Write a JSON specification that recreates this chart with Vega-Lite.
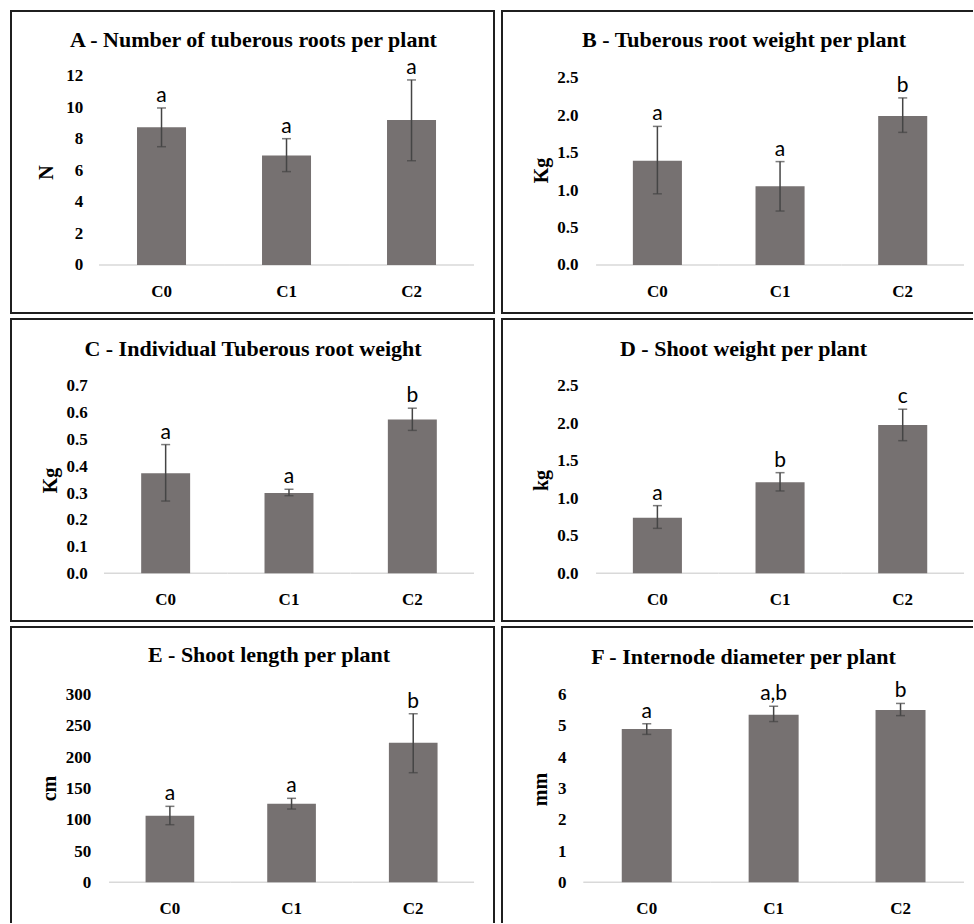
{
  "$schema": "https://vega.github.io/schema/vega-lite/v6.json",
  "padding": {"left": 10, "top": 10, "right": 0, "bottom": 0},
  "background": "white",
  "datasets": {
    "A": [
      {"treatment": "C0", "mean": 8.74, "lo": 7.51, "hi": 9.97, "letter": "a"},
      {"treatment": "C1", "mean": 6.96, "lo": 5.93, "hi": 8.02, "letter": "a"},
      {"treatment": "C2", "mean": 9.21, "lo": 6.62, "hi": 11.75, "letter": "a"}
    ],
    "B": [
      {"treatment": "C0", "mean": 1.39, "lo": 0.95, "hi": 1.85, "letter": "a"},
      {"treatment": "C1", "mean": 1.05, "lo": 0.72, "hi": 1.38, "letter": "a"},
      {"treatment": "C2", "mean": 1.99, "lo": 1.77, "hi": 2.23, "letter": "b"}
    ],
    "C": [
      {"treatment": "C0", "mean": 0.374, "lo": 0.27, "hi": 0.481, "letter": "a"},
      {"treatment": "C1", "mean": 0.3, "lo": 0.29, "hi": 0.314, "letter": "a"},
      {"treatment": "C2", "mean": 0.575, "lo": 0.534, "hi": 0.617, "letter": "b"}
    ],
    "D": [
      {"treatment": "C0", "mean": 0.742, "lo": 0.6, "hi": 0.903, "letter": "a"},
      {"treatment": "C1", "mean": 1.215, "lo": 1.099, "hi": 1.343, "letter": "b"},
      {"treatment": "C2", "mean": 1.98, "lo": 1.77, "hi": 2.19, "letter": "c"}
    ],
    "E": [
      {"treatment": "C0", "mean": 106.5, "lo": 92.1, "hi": 121.5, "letter": "a"},
      {"treatment": "C1", "mean": 125.7, "lo": 117.2, "hi": 134.3, "letter": "a"},
      {"treatment": "C2", "mean": 223.3, "lo": 175.3, "hi": 269.6, "letter": "b"}
    ],
    "F": [
      {"treatment": "C0", "mean": 4.9, "lo": 4.73, "hi": 5.07, "letter": "a"},
      {"treatment": "C1", "mean": 5.36, "lo": 5.14, "hi": 5.63, "letter": "a,b"},
      {"treatment": "C2", "mean": 5.51, "lo": 5.33, "hi": 5.72, "letter": "b"}
    ]
  },
  "columns": 2,
  "spacing": {"row": 4, "column": 6},
  "concat": [
    {
      "width": 483, "height": 302,
      "title": {"text": "A - Number of tuberous roots per plant", "dx": 1, "offset": -41},
      "data": {"name": "A"},
      "encoding": {"x": {"field": "treatment", "type": "nominal", "scale": {"paddingInner": 0, "paddingOuter": 0.432, "align": 0.815}, "axis": {"title": null, "offset": -48}}},
      "layer": [
        {"mark": {"type": "bar", "fill": null, "stroke": "#d9d9d9", "strokeWidth": 1.5, "width": {"band": 1}}, "encoding": {"y": {"datum": 0, "type": "quantitative", "title": "N"}, "y2": {"datum": 0}}},
        {"mark": {"type": "bar", "color": "#767171", "width": {"band": 0.392}},
         "encoding": {"y": {"field": "mean", "type": "quantitative", "title": "N", "scale": {"domain": [-3.048, 16.127], "nice": false, "zero": false}, "axis": {"values": [0, 2, 4, 6, 8, 10, 12], "format": "d", "offset": -71.7, "titleX": -35.7, "titleY": 161}}, "y2": {"datum": 0}}},
        {"mark": {"type": "errorbar", "ticks": true, "size": 9, "thickness": 1.5, "color": "#454545"}, "encoding": {"y": {"field": "lo", "type": "quantitative", "title": "N"}, "y2": {"field": "hi"}}},
        {"mark": {"type": "text", "baseline": "alphabetic", "dy": -6}, "encoding": {"y": {"field": "hi", "type": "quantitative", "title": "N"}, "text": {"field": "letter"}}}
      ]
    },
    {
      "width": 471, "height": 302,
      "view": {"strokeDash": [471, 302, 773]},
      "title": {"text": "B - Tuberous root weight per plant", "dx": 6.5, "offset": -41},
      "data": {"name": "B"},
      "encoding": {"x": {"field": "treatment", "type": "nominal", "scale": {"paddingInner": 0, "paddingOuter": 0.42, "align": 0.913}, "axis": {"title": null, "offset": -48}}},
      "layer": [
        {"mark": {"type": "bar", "fill": null, "stroke": "#d9d9d9", "strokeWidth": 1.5, "width": {"band": 1}}, "encoding": {"y": {"datum": 0, "type": "quantitative", "title": "Kg"}, "y2": {"datum": 0}}},
        {"mark": {"type": "bar", "color": "#767171", "width": {"band": 0.4}},
         "encoding": {"y": {"field": "mean", "type": "quantitative", "title": "Kg", "scale": {"domain": [-0.6407, 3.39], "nice": false, "zero": false}, "axis": {"values": [0, 0.5, 1, 1.5, 2, 2.5], "format": ".1f", "offset": -76, "titleX": -36.3, "titleY": 159}}, "y2": {"datum": 0}}},
        {"mark": {"type": "errorbar", "ticks": true, "size": 9, "thickness": 1.5, "color": "#454545"}, "encoding": {"y": {"field": "lo", "type": "quantitative", "title": "Kg"}, "y2": {"field": "hi"}}},
        {"mark": {"type": "text", "baseline": "alphabetic", "dy": -6}, "encoding": {"y": {"field": "hi", "type": "quantitative", "title": "Kg"}, "text": {"field": "letter"}}}
      ]
    },
    {
      "width": 483, "height": 302,
      "title": {"text": "C - Individual Tuberous root weight", "dx": 0.5, "offset": -41.7},
      "data": {"name": "C"},
      "encoding": {"x": {"field": "treatment", "type": "nominal", "scale": {"paddingInner": 0, "paddingOuter": 0.458, "align": 0.823}, "axis": {"title": null, "offset": -47.7}}},
      "layer": [
        {"mark": {"type": "bar", "fill": null, "stroke": "#d9d9d9", "strokeWidth": 1.5, "width": {"band": 1}}, "encoding": {"y": {"datum": 0, "type": "quantitative", "title": "Kg"}, "y2": {"datum": 0}}},
        {"mark": {"type": "bar", "color": "#767171", "width": {"band": 0.397}},
         "encoding": {"y": {"field": "mean", "type": "quantitative", "title": "Kg", "scale": {"domain": [-0.1783, 0.9503], "nice": false, "zero": false}, "axis": {"values": [0, 0.1, 0.2, 0.3, 0.4, 0.5, 0.6, 0.7], "format": ".1f", "offset": -76.3, "titleX": -37.3, "titleY": 161}}, "y2": {"datum": 0}}},
        {"mark": {"type": "errorbar", "ticks": true, "size": 9, "thickness": 1.5, "color": "#454545"}, "encoding": {"y": {"field": "lo", "type": "quantitative", "title": "Kg"}, "y2": {"field": "hi"}}},
        {"mark": {"type": "text", "baseline": "alphabetic", "dy": -6}, "encoding": {"y": {"field": "hi", "type": "quantitative", "title": "Kg"}, "text": {"field": "letter"}}}
      ]
    },
    {
      "width": 471, "height": 302,
      "view": {"strokeDash": [471, 302, 773]},
      "title": {"text": "D - Shoot weight per plant", "dx": 6, "offset": -41.7},
      "data": {"name": "D"},
      "encoding": {"x": {"field": "treatment", "type": "nominal", "scale": {"paddingInner": 0, "paddingOuter": 0.42, "align": 0.913}, "axis": {"title": null, "offset": -47.7}}},
      "layer": [
        {"mark": {"type": "bar", "fill": null, "stroke": "#d9d9d9", "strokeWidth": 1.5, "width": {"band": 1}}, "encoding": {"y": {"datum": 0, "type": "quantitative", "title": "kg"}, "y2": {"datum": 0}}},
        {"mark": {"type": "bar", "color": "#767171", "width": {"band": 0.4}},
         "encoding": {"y": {"field": "mean", "type": "quantitative", "title": "kg", "scale": {"domain": [-0.6367, 3.394], "nice": false, "zero": false}, "axis": {"values": [0, 0.5, 1, 1.5, 2, 2.5], "format": ".1f", "offset": -76, "titleX": -36.3, "titleY": 161}}, "y2": {"datum": 0}}},
        {"mark": {"type": "errorbar", "ticks": true, "size": 9, "thickness": 1.5, "color": "#454545"}, "encoding": {"y": {"field": "lo", "type": "quantitative", "title": "kg"}, "y2": {"field": "hi"}}},
        {"mark": {"type": "text", "baseline": "alphabetic", "dy": -6}, "encoding": {"y": {"field": "hi", "type": "quantitative", "title": "kg"}, "text": {"field": "letter"}}}
      ]
    },
    {
      "width": 483, "height": 296,
      "view": {"strokeDash": [779, 483, 296]},
      "title": {"text": "E - Shoot length per plant", "dx": 16.5, "offset": -39.7},
      "data": {"name": "E"},
      "encoding": {"x": {"field": "treatment", "type": "nominal", "scale": {"paddingInner": 0, "paddingOuter": 0.485, "align": 0.831}, "axis": {"title": null, "offset": -40.7}}},
      "layer": [
        {"mark": {"type": "bar", "fill": null, "stroke": "#d9d9d9", "strokeWidth": 1.5, "width": {"band": 1}}, "encoding": {"y": {"datum": 0, "type": "quantitative", "title": "cm"}, "y2": {"datum": 0}}},
        {"mark": {"type": "bar", "color": "#767171", "width": {"band": 0.4}},
         "encoding": {"y": {"field": "mean", "type": "quantitative", "title": "cm", "scale": {"domain": [-65.09, 408.3], "nice": false, "zero": false}, "axis": {"values": [0, 50, 100, 150, 200, 250, 300], "format": "d", "offset": -79.7, "titleX": -40.7, "titleY": 161}}, "y2": {"datum": 0}}},
        {"mark": {"type": "errorbar", "ticks": true, "size": 9, "thickness": 1.5, "color": "#454545"}, "encoding": {"y": {"field": "lo", "type": "quantitative", "title": "cm"}, "y2": {"field": "hi"}}},
        {"mark": {"type": "text", "baseline": "alphabetic", "dy": -6}, "encoding": {"y": {"field": "hi", "type": "quantitative", "title": "cm"}, "text": {"field": "letter"}}}
      ]
    },
    {
      "width": 471, "height": 296,
      "view": {"strokeDash": [471, 767, 296]},
      "title": {"text": "F - Internode diameter per plant", "dx": 6, "offset": -42},
      "data": {"name": "F"},
      "encoding": {"x": {"field": "treatment", "type": "nominal", "scale": {"paddingInner": 0, "paddingOuter": 0.356, "align": 0.9}, "axis": {"title": null, "offset": -40.7}}},
      "layer": [
        {"mark": {"type": "bar", "fill": null, "stroke": "#d9d9d9", "strokeWidth": 1.5, "width": {"band": 1}}, "encoding": {"y": {"datum": 0, "type": "quantitative", "title": "mm"}, "y2": {"datum": 0}}},
        {"mark": {"type": "bar", "color": "#767171", "width": {"band": 0.394}},
         "encoding": {"y": {"field": "mean", "type": "quantitative", "title": "mm", "scale": {"domain": [-1.3016, 8.164], "nice": false, "zero": false}, "axis": {"values": [0, 1, 2, 3, 4, 5, 6], "format": "d", "offset": -64, "titleX": -25.3, "titleY": 162}}, "y2": {"datum": 0}}},
        {"mark": {"type": "errorbar", "ticks": true, "size": 9, "thickness": 1.5, "color": "#454545"}, "encoding": {"y": {"field": "lo", "type": "quantitative", "title": "mm"}, "y2": {"field": "hi"}}},
        {"mark": {"type": "text", "baseline": "alphabetic", "dy": -6}, "encoding": {"y": {"field": "hi", "type": "quantitative", "title": "mm"}, "text": {"field": "letter"}}}
      ]
    }
  ],
  "config": {
    "view": {"stroke": "#1f1f1f", "strokeWidth": 2},
    "title": {"font": "Liberation Serif", "fontSize": 22, "fontWeight": "bold", "color": "#000000", "anchor": "middle", "frame": "group", "baseline": "alphabetic"},
    "axis": {
      "domain": false, "ticks": false, "tickSize": 0, "grid": false,
      "labelFont": "Liberation Serif", "labelFontSize": 17, "labelFontWeight": "bold", "labelColor": "#000000",
      "titleFont": "Liberation Serif", "titleFontSize": 20, "titleFontWeight": "bold", "titleColor": "#000000"
    },
    "axisY": {"labelPadding": 0, "titleAngle": -90, "titleAlign": "center", "titleBaseline": "middle"},
    "axisX": {"labelAngle": 0, "labelPadding": 31, "labelBaseline": "alphabetic"},
    "text": {"font": "Lato", "fontSize": 21, "color": "#000000"}
  }
}
